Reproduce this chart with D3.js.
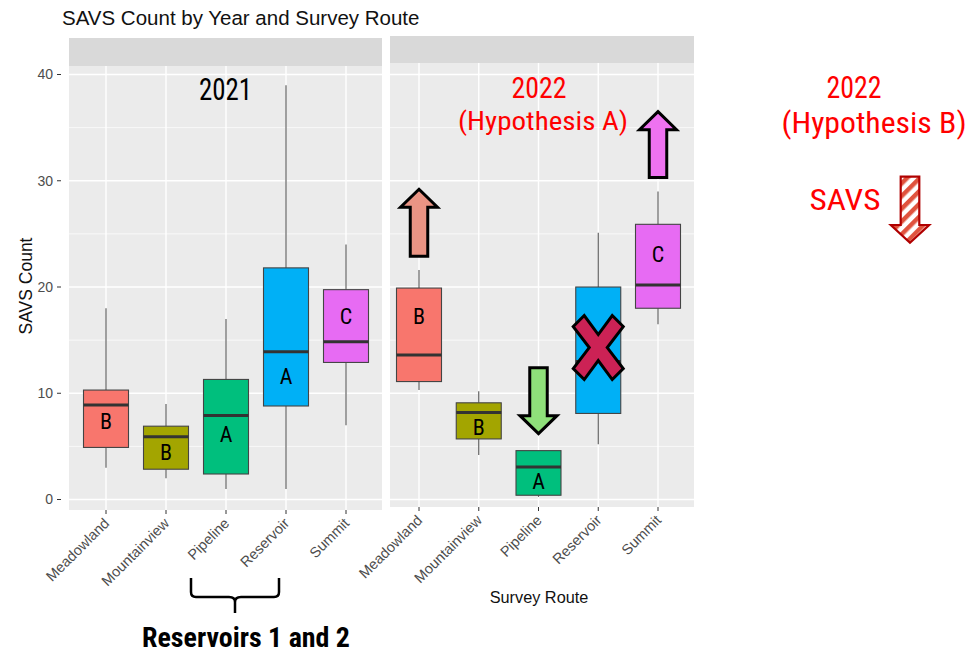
<!DOCTYPE html>
<html><head><meta charset="utf-8">
<script src="https://cdn.jsdelivr.net/npm/d3@7"></script>
<style>body{margin:0;background:#fff;} svg{display:block;}</style>
</head><body><svg id="c" width="974" height="653"></svg>
<script>
// ---------- data ----------
const routes = ["Meadowland", "Mountainview", "Pipeline", "Reservoir", "Summit"];
const years = ["2021", "2022"];
const yTicks = [0, 10, 20, 30, 40];
const yMinor = [5, 15, 25, 35];

const lower2021  = [3.0, 2.0, 1.0, 1.0, 7.0];
const q1_2021    = [4.9, 2.85, 2.4, 8.8, 12.9];
const median2021 = [8.9, 5.9, 7.9, 13.9, 14.85];
const q3_2021    = [10.3, 6.9, 11.3, 21.8, 19.75];
const upper2021  = [18.0, 9.0, 17.0, 39.0, 24.0];
const letters2021 = ["B", "B", "A", "A", "C"];
const letterAt2021 = [7.3, 4.4, 6.1, 11.6, 17.2];

const lower2022  = [10.3, 4.2, 0.25, 5.2, 16.5];
const q1_2022    = [11.1, 5.7, 0.4, 8.1, 18.0];
const median2022 = [13.6, 8.2, 3.06, 13.0, 20.2];
const q3_2022    = [19.9, 9.1, 4.6, 20.0, 25.9];
const upper2022  = [21.6, 10.2, 4.6, 25.1, 29.0];
const letters2022 = ["B", "B", "A", "", "C"];
const letterAt2022 = [17.2, 6.8, 1.7, null, 23.1];

const routeColors = ["#F8766D", "#A3A500", "#00BF7D", "#00B0F6", "#E76BF3"];

// annotations (data-space anchors)
const upArrows = [
  {route: "Meadowland", tip: 29.2, tail: 22.9, fill: "#EA9484"},
  {route: "Summit", tip: 36.5, tail: 30.3, fill: "#EE72F0"}
];
const downArrows = [{route: "Pipeline", tail: 12.4, tip: 6.2, fill: "#8FE07A"}];
const crosses = [{route: "Reservoir", value: 14.3}];

// ---------- layout ----------
const svg = d3.select("#c");
const y = d3.scaleLinear().domain([0, 40]).range([499.5, 74.5]);
const panels = [
  {year: "2021", x0: 69, x1: 382, stripTop: 38, top: 66, bottom: 510,
   x: d3.scalePoint().domain(routes).range([106, 346]),
   lower: lower2021, q1: q1_2021, med: median2021, q3: q3_2021, upper: upper2021,
   letters: letters2021, letterAt: letterAt2021},
  {year: "2022", x0: 390, x1: 694, stripTop: 36, top: 63, bottom: 507,
   x: d3.scalePoint().domain(routes).range([419, 658]),
   lower: lower2022, q1: q1_2022, med: median2022, q3: q3_2022, upper: upper2022,
   letters: letters2022, letterAt: letterAt2022}
];
const boxW = 45;
const narrow = "'Liberation Sans Narrow', 'Roboto Condensed', Roboto, sans-serif";
const sans = "'Liberation Sans', Arial, sans-serif";

// pattern for hatched arrow
const defs = svg.append("defs");
const pat = defs.append("pattern").attr("id", "hatch").attr("patternUnits", "userSpaceOnUse")
  .attr("width", 9).attr("height", 9).attr("patternTransform", "rotate(45)");
pat.append("rect").attr("width", 9).attr("height", 9).attr("fill", "#fff");
pat.append("rect").attr("width", 4.5).attr("height", 9).attr("fill", "#E0533E");

// title
svg.append("text").attr("x", 62).attr("y", 25).text("SAVS Count by Year and Survey Route")
  .attr("font-family", sans).attr("font-size", 20.5).attr("fill", "#111");

panels.forEach(p => {
  const g = svg.append("g");
  g.append("rect").attr("x", p.x0).attr("y", p.stripTop).attr("width", p.x1 - p.x0)
    .attr("height", p.top - p.stripTop).attr("fill", "#D9D9D9");
  g.append("rect").attr("x", p.x0).attr("y", p.top).attr("width", p.x1 - p.x0)
    .attr("height", p.bottom - p.top).attr("fill", "#EBEBEB");
  g.selectAll(".minor").data(yMinor).join("line")
    .attr("x1", p.x0).attr("x2", p.x1).attr("y1", d => y(d)).attr("y2", d => y(d))
    .attr("stroke", "#fff").attr("stroke-width", 0.7);
  g.selectAll(".major").data(yTicks).join("line")
    .attr("x1", p.x0).attr("x2", p.x1).attr("y1", d => y(d)).attr("y2", d => y(d))
    .attr("stroke", "#fff").attr("stroke-width", 1.4);
  g.selectAll(".vmaj").data(routes).join("line")
    .attr("x1", d => p.x(d)).attr("x2", d => p.x(d)).attr("y1", p.top).attr("y2", p.bottom)
    .attr("stroke", "#fff").attr("stroke-width", 1.4);

  // x axis ticks + labels
  g.selectAll(".xt").data(routes).join("line")
    .attr("x1", d => p.x(d)).attr("x2", d => p.x(d)).attr("y1", p.bottom).attr("y2", p.bottom + 4)
    .attr("stroke", "#333").attr("stroke-width", 1);
  g.selectAll(".xl").data(routes).join("text")
    .attr("transform", d => `translate(${p.x(d) - 3},${p.bottom + 7}) rotate(-45)`)
    .attr("text-anchor", "end").attr("dy", "0.7em")
    .attr("font-family", sans).attr("font-size", 14.5)
    .attr("fill", "#4D4D4D").text(d => d);

  // boxes
  const bx = g.selectAll(".box").data(routes.map((r, i) => ({r, i}))).join("g");
  bx.append("line").attr("x1", d => p.x(d.r)).attr("x2", d => p.x(d.r))
    .attr("y1", d => y(p.upper[d.i])).attr("y2", d => y(p.q3[d.i]))
    .attr("stroke", "#555").attr("stroke-width", 1.1);
  bx.append("line").attr("x1", d => p.x(d.r)).attr("x2", d => p.x(d.r))
    .attr("y1", d => y(p.q1[d.i])).attr("y2", d => y(p.lower[d.i]))
    .attr("stroke", "#555").attr("stroke-width", 1.1);
  bx.append("rect").attr("x", d => p.x(d.r) - boxW / 2).attr("width", boxW)
    .attr("y", d => y(p.q3[d.i])).attr("height", d => y(p.q1[d.i]) - y(p.q3[d.i]))
    .attr("fill", d => routeColors[d.i]).attr("stroke", "#444").attr("stroke-width", 1.1);
  bx.append("line").attr("x1", d => p.x(d.r) - boxW / 2).attr("x2", d => p.x(d.r) + boxW / 2)
    .attr("y1", d => y(p.med[d.i])).attr("y2", d => y(p.med[d.i]))
    .attr("stroke", "#333").attr("stroke-width", 3);
  bx.filter(d => p.letters[d.i]).append("text")
    .attr("x", d => p.x(d.r)).attr("y", d => y(p.letterAt[d.i]))
    .attr("text-anchor", "middle").attr("dominant-baseline", "central")
    .attr("font-family", narrow).attr("font-size", 22).attr("fill", "#000")
    .text(d => p.letters[d.i]);
});

// y axis (left)
const ya = svg.append("g");
ya.selectAll("line").data(yTicks).join("line")
  .attr("x1", 57).attr("x2", 61).attr("y1", d => y(d)).attr("y2", d => y(d))
  .attr("stroke", "#333");
ya.selectAll("text").data(yTicks).join("text")
  .attr("x", 53).attr("y", d => y(d)).attr("dy", "0.35em").attr("text-anchor", "end")
  .attr("font-family", sans).attr("font-size", 14)
  .attr("fill", "#4D4D4D").text(d => d);
svg.append("text").attr("transform", "translate(32,286) rotate(-90)").attr("text-anchor", "middle")
  .attr("font-family", sans).attr("font-size", 17.5)
  .attr("fill", "#111").text("SAVS Count");
svg.append("text").attr("x", 539).attr("y", 603).attr("text-anchor", "middle")
  .attr("font-family", sans).attr("font-size", 16.3)
  .attr("fill", "#111").text("Survey Route");

// arrows
function arrowPath(cx, tipY, tailY, shaftW, headW, headL) {
  const s = Math.sign(tailY - tipY);
  const hb = tipY + s * headL;
  return `M${cx},${tipY} L${cx + headW / 2},${hb} L${cx + shaftW / 2},${hb} L${cx + shaftW / 2},${tailY}
    L${cx - shaftW / 2},${tailY} L${cx - shaftW / 2},${hb} L${cx - headW / 2},${hb} Z`;
}
const px = panels[1].x;
upArrows.concat(downArrows).forEach(a => {
  svg.append("path").attr("d", arrowPath(px(a.route), y(a.tip), y(a.tail), 17.5, 37, 18))
    .attr("fill", a.fill).attr("stroke", "#000").attr("stroke-width", 3).attr("stroke-linejoin", "miter");
});
crosses.forEach(c => {
  const cx = px(c.route), cy = y(c.value);
  const W = 25, H = 32, d = 11, cv = 13, ch = 9;
  const pts = [[-W, -H + d], [-W + d, -H], [0, -cv], [W - d, -H], [W, -H + d], [ch, 0],
               [W, H - d], [W - d, H], [0, cv], [-W + d, H], [-W, H - d], [-ch, 0]];
  svg.append("path").attr("d", "M" + pts.map(q => `${cx + q[0]},${cy + q[1]}`).join("L") + "Z")
    .attr("fill", "#CC2255").attr("stroke", "#000").attr("stroke-width", 3).attr("stroke-linejoin", "miter");
});

// hatched arrow (Hypothesis B)
svg.append("path").attr("d", arrowPath(910, 242.7, 176.7, 18.6, 38.3, 17.7))
  .attr("fill", "url(#hatch)").attr("stroke", "#B00000").attr("stroke-width", 2.2);

// annotation texts
function ntext(x, yy, str, size, width, color, weight) {
  svg.append("text").attr("x", x).attr("y", yy).attr("text-anchor", "middle")
    .attr("font-family", narrow).attr("font-size", size).attr("font-weight", weight || "normal")
    .attr("fill", color).attr("textLength", width).attr("lengthAdjust", "spacingAndGlyphs").text(str);
}
ntext(225.5, 100, years[0], 32, 53, "#000");
ntext(539, 98, years[1], 30, 55, "#FF0000");
ntext(543, 130, "(Hypothesis A)", 25, 170, "#FF0000");
ntext(854, 98, years[1], 31, 55, "#FF0000");
ntext(874, 133, "(Hypothesis B)", 29, 185, "#FF0000");
ntext(845, 210, "SAVS", 30, 71, "#FF0000");
ntext(246, 647, "Reservoirs 1 and 2", 27, 208, "#000", "bold");

// brace
svg.append("path").attr("d", "M191,578 L191,592 Q191,597 196,597 L229,597 Q235,597 235,602 L235,613 M235,602 Q235,597 241,597 L274,597 Q279,597 279,592 L279,578")
  .attr("fill", "none").attr("stroke", "#000").attr("stroke-width", 2.5);
</script></body></html>
